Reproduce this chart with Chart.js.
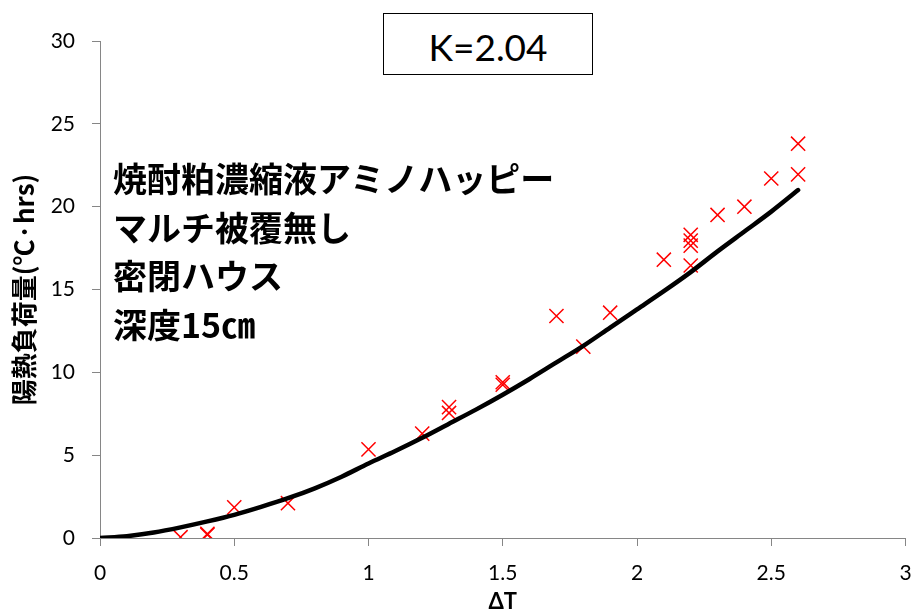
<!DOCTYPE html>
<html>
<head>
<meta charset="utf-8">
<script src="https://cdn.jsdelivr.net/npm/chart.js@4.4.1/dist/chart.umd.min.js"></script>
<style>
  html, body { margin: 0; padding: 0; background: #fff; }
  #wrap { position: relative; width: 917px; height: 610px; overflow: hidden; }
  #kbox {
    position: absolute; left: 383px; top: 13px; width: 210px; height: 62px;
    box-sizing: border-box; border: 1.5px solid #000; background: #fff;
    font-family: Lato, "Liberation Sans", sans-serif; font-size: 37px;
    text-align: center; line-height: 66px; color: #000;
  }
  #note {
    position: absolute; left: 113px; top: 154px;
    font-family: "Noto Sans CJK JP", sans-serif; font-weight: bold;
    font-size: 34px; line-height: 48.7px; color: #000; white-space: nowrap;
  }
</style>
</head>
<body>
<div id="wrap">
  <canvas id="chartHeat" width="917" height="610"></canvas>
  <div id="kbox">K=2.04</div>
  <div id="note">焼酎粕濃縮液アミノハッピー<br>マルチ被覆無し<br>密閉ハウス<br>深度15㎝</div>
</div>
<script>
// measured points
const dT = [0.3, 0.4, 0.4, 0.5, 0.7, 1.0, 1.2, 1.3, 1.3, 1.5, 1.5, 1.7, 1.8, 1.9, 2.1, 2.2, 2.2, 2.2, 2.2, 2.3, 2.4, 2.5, 2.6, 2.6];
const heatLoad = [0.05, 0.2, 0.25, 1.85, 2.1, 5.35, 6.3, 7.55, 7.9, 9.25, 9.4, 13.4, 11.55, 13.6, 16.8, 16.45, 17.65, 17.95, 18.3, 19.5, 20.0, 21.7, 21.95, 23.8];

// fitted curve
const curveX = [0, 0.1, 0.2, 0.3, 0.4, 0.5, 0.6, 0.7, 0.8, 0.9, 1.0, 1.1, 1.2, 1.3, 1.4, 1.5, 1.6, 1.7, 1.8, 1.9, 2.0, 2.1, 2.2, 2.3, 2.4, 2.5, 2.6];
const curveY = [0, 0.11, 0.33, 0.64, 1.0, 1.4, 1.88, 2.4, 3.0, 3.7, 4.5, 5.25, 6.05, 6.9, 7.75, 8.65, 9.6, 10.6, 11.6, 12.7, 13.8, 14.9, 16.05, 17.3, 18.5, 19.7, 21.0];

const xTicks = [0, 0.5, 1, 1.5, 2, 2.5, 3];
const yTicks = [0, 5, 10, 15, 20, 25, 30];

const axisGray = '#868686';
const tickFont = { family: 'Lato, "Liberation Sans", sans-serif', size: 21 };

const ctx = document.getElementById('chartHeat').getContext('2d');
new Chart(ctx, {
    type: 'scatter',
    data: {
        datasets: [{
            type: 'line',
            data: curveX.map((x, i) => ({ x: x, y: curveY[i] })),
            borderColor: '#000',
            borderWidth: 4.5,
            borderCapStyle: 'round',
            pointRadius: 0,
            cubicInterpolationMode: 'monotone',
            fill: false
        }, {
            data: dT.map((x, i) => ({ x: x, y: heatLoad[i] })),
            pointStyle: 'crossRot',
            pointRadius: 10,
            pointBorderWidth: 1.5,
            borderColor: '#ff0000',
            backgroundColor: '#ff0000'
        }]
    },
    options: {
        responsive: false,
        animation: false,
        layout: {
            padding: { top: 41, right: 9, left: 0, bottom: 0 }
        },
        plugins: {
            legend: { display: false },
            tooltip: { enabled: false }
        },
        scales: {
            x: {
                type: 'linear',
                min: 0,
                max: 3,
                afterFit: (scale) => {
                    scale.height = 72;
                    scale.paddingLeft = 0;
                    scale.paddingRight = 0;
                },
                afterBuildTicks: (scale) => { scale.ticks = xTicks.map(v => ({ value: v })); },
                grid: { display: true, drawOnChartArea: false, drawTicks: true, tickLength: 8, color: axisGray },
                border: { display: true, color: axisGray, width: 1 },
                ticks: {
                    font: tickFont, color: '#000', padding: 15, maxRotation: 0,
                    callback: (v) => String(v)
                },
                title: {
                    display: true,
                    text: 'ΔT',
                    font: { family: 'Lato, "Noto Sans", sans-serif', size: 22, weight: 'bold', lineHeight: 0.7 },
                    color: '#000',
                    padding: { top: 0, bottom: 0 }
                }
            },
            y: {
                min: 0,
                max: 30,
                afterFit: (scale) => { scale.width = 100; },
                afterBuildTicks: (scale) => { scale.ticks = yTicks.map(v => ({ value: v })); },
                grid: { display: true, drawOnChartArea: false, drawTicks: true, tickLength: 8, color: axisGray },
                border: { display: true, color: axisGray, width: 1 },
                ticks: { font: tickFont, color: '#000', padding: 17, callback: (v) => String(v) },
                title: {
                    display: true,
                    text: '陽熱負荷量(℃·hrs)',
                    font: { family: '"Noto Sans CJK JP", sans-serif', size: 26, weight: 'bold', lineHeight: 1.2 },
                    color: '#000',
                    padding: { top: 9, bottom: 0 }
                }
            }
        }
    }
});
</script>
</body>
</html>
